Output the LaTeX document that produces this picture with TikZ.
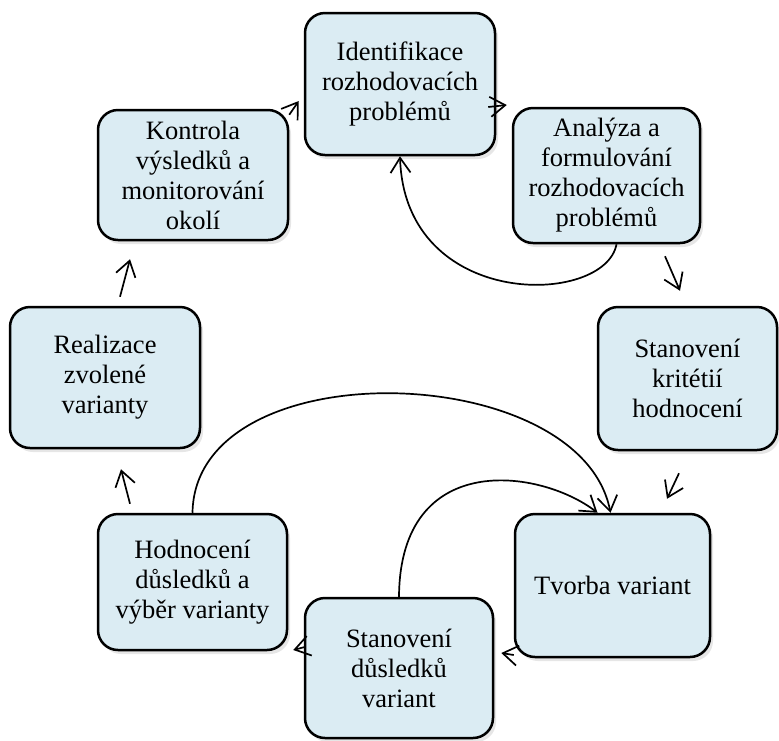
\documentclass[tikz,border=0pt]{standalone}
\usepackage{fontspec}
\setmainfont{Liberation Serif}
\usetikzlibrary{arrows.meta,shadows,calc}
\definecolor{boxfill}{RGB}{219,236,243}

\begin{document}
\begin{tikzpicture}[x=1pt,y=-1pt,
    stage/.style={draw, line width=2.5pt, rounded corners=20pt, fill=boxfill,
      align=center, inner sep=0pt, font=\fontsize{26.5}{30}\selectfont,
      drop shadow={opacity=0.2, shadow xshift=3pt, shadow yshift=-4pt}},
    arr/.style={line width=1.7pt, -{Straight Barb[length=15pt,width=20pt]}}]
    \useasboundingbox (0,0) rectangle (779,740); % Fixes the page...

    \node[stage, minimum width=190pt, minimum height=142pt] (b1) at (400,84) {Identifikace\\rozhodovacích\\problémů};
    \node[stage, minimum width=187pt, minimum height=135pt] (b2) at (606.5,175.5) {Analýza a\\formulování\\rozhodovacích\\problémů};
    \node[stage, minimum width=179pt, minimum height=143pt] (b3) at (687.5,378.5) {Stanovení\\kritétií\\hodnocení};
    \node[stage, minimum width=195pt, minimum height=143pt] (b4) at (612.5,585.5) {Tvorba variant};
    \node[stage, minimum width=188pt, minimum height=140pt] (b5) at (399,668) {Stanovení\\důsledků\\variant};
    \node[stage, minimum width=189pt, minimum height=136pt] (b6) at (192.5,582) {Hodnocení\\důsledků a\\výběr varianty};
    \node[stage, minimum width=190pt, minimum height=141pt] (b7) at (105,377.5) {Realizace\\zvolené\\varianty};
    \node[stage, minimum width=190pt, minimum height=130pt] (b8) at (193,175) {Kontrola\\výsledků a\\monitorování\\okolí};

    % short arrows round the cycle
    \draw[arr] ($(b8.north east)+(0,6)$) -- ($(b1.west)+(-5,17)$);
    \draw[arr] ($(b1.east)+(-8,23)$) -- ($(b2.west)+(-5,-70.5)$);
    \draw[arr] ($(b2.south)+(58.5,12)$) -- ($(b3.north)+(-7.5,-15)$);
    \draw[arr] ($(b3.south)+(-8.5,22)$) -- ($(b4.north)+(54.5,-14)$);
    \draw[arr] ($(b4.west)+(0,69.5)$) -- ($(b5.east)+(7,-15)$);
    \draw[arr] ($(b5.west)+(1,-21)$) -- ($(b6.east)+(5,68)$);
    \draw[arr] ($(b6.north)+(-62.5,-9)$) -- ($(b7.south)+(16,20)$);
    \draw[arr] ($(b7.north)+(15,-9)$) -- ($(b8.south)+(-63,18)$);

    % feedback curves
    \draw[arr] ($(b2.south)+(10,0)$) .. controls +(-11.5,62) and +(5,155) .. (b1.south);
    \draw[arr] (b6.north) .. controls +(2.5,-164) and +(-30,-154) .. ($(b4.north)+(-2,0)$);
    \draw[arr] (b5.north) .. controls +(1,-148) and +(-57,-44) .. ($(b4.north)+(-15,0)$);
  \end{tikzpicture}
\end{document}
